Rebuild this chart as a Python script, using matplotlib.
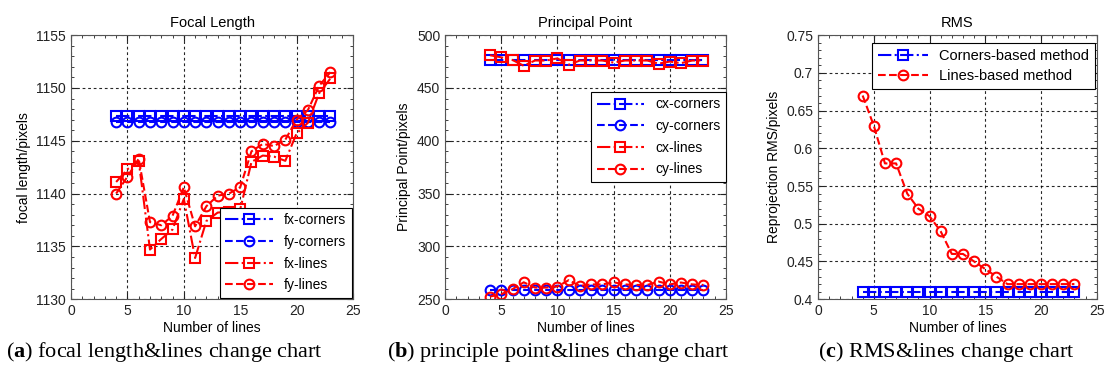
"""Calibration parameters vs number of lines (three panels)."""
import numpy as np
import matplotlib
matplotlib.use('Agg')
import matplotlib.pyplot as plt
from matplotlib.ticker import MultipleLocator

plt.rcParams['font.family'] = ['Liberation Sans', 'DejaVu Sans']
plt.rcParams['mathtext.fontset'] = 'custom'
plt.rcParams['mathtext.rm'] = 'Liberation Serif'
plt.rcParams['mathtext.bf'] = 'Liberation Serif:bold'

# data
n_lines = list(range(4, 24))

fx_corners = [1147.3] * 20
fy_corners = [1146.8] * 20
fx_lines = [1141.1, 1142.3, 1143.1, 1134.7, 1135.7, 1136.6, 1139.5, 1133.9, 1137.4, 1138.2,
            1138.3, 1138.5, 1143.0, 1143.6, 1143.5, 1143.1, 1145.7, 1146.7, 1149.5, 1150.9]
fy_lines = [1140.0, 1141.6, 1143.3, 1137.3, 1137.0, 1137.9, 1140.6, 1136.9, 1138.8, 1139.8,
            1140.0, 1140.6, 1144.0, 1144.7, 1144.5, 1145.1, 1147.0, 1147.9, 1150.2, 1151.5]

cx_corners = [476.5] * 20
cy_corners = [258.5] * 20
cx_lines = [481, 479, 476.5, 471, 476, 476, 478, 472, 476, 476,
            476, 474, 476, 476, 476, 473, 475, 473.5, 476, 476]
cy_lines = [252.5, 254.7, 259.5, 266, 261, 261, 262, 268, 262.6, 264,
            264, 266, 264, 263.5, 263.5, 266.7, 264, 265.8, 264, 263.5]

rms_corners = [0.41] * 20
rms_lines = [0.67, 0.63, 0.58, 0.58, 0.54, 0.52, 0.51, 0.49, 0.46, 0.46,
             0.45, 0.44, 0.43, 0.42, 0.42, 0.42, 0.42, 0.42, 0.42, 0.42]

BLUE = '#0000ff'
RED = '#ff0000'
mk = dict(ms=7, mew=1.5, mfc='none', lw=1.5)

fig = plt.figure(figsize=(11.1, 3.74), dpi=100)
axes = [fig.add_axes([0.064, 0.2, 0.254, 0.706]),
        fig.add_axes([0.401, 0.2, 0.253, 0.706]),
        fig.add_axes([0.737, 0.2, 0.251, 0.706])]


def style(ax, ylim, ymaj, ymin, ylabel, title):
    ax.set_xlim(0, 25)
    ax.set_ylim(*ylim)
    ax.xaxis.set_major_locator(MultipleLocator(5))
    ax.xaxis.set_minor_locator(MultipleLocator(1))
    ax.yaxis.set_major_locator(MultipleLocator(ymaj))
    ax.yaxis.set_minor_locator(MultipleLocator(ymin))
    ax.tick_params(which='both', direction='in', top=True, right=True,
                   labelsize=10, colors='#222222')
    ax.tick_params(which='major', length=4)
    ax.tick_params(which='minor', length=2)
    ax.grid(which='major', color='k', ls=(0, (2.5, 2.5)), lw=0.8, alpha=0.85)
    for s in ax.spines.values():
        s.set_color('#555555')
    ax.set_xlabel('Number of lines', fontsize=10, labelpad=2)
    ax.set_ylabel(ylabel, fontsize=10)
    ax.set_title(title, fontsize=10.5, pad=6)


# (a) focal length
ax = axes[0]
ax.plot(n_lines, fx_corners, '-.s', color=BLUE, label='fx-corners', **mk)
ax.plot(n_lines, fy_corners, '--o', color=BLUE, label='fy-corners', **mk)
ax.plot(n_lines, fx_lines, '-.s', color=RED, label='fx-lines', **mk)
ax.plot(n_lines, fy_lines, '--o', color=RED, label='fy-lines', **mk)
style(ax, (1130, 1155), 5, 1, 'focal length/pixels', 'Focal Length')
leg = ax.legend(loc='lower right', fontsize=10, handlelength=3.4, fancybox=False,
                edgecolor='k', framealpha=1, borderaxespad=0.1, labelspacing=0.55)
leg.get_frame().set_linewidth(0.8)
leg.set_zorder(10)

# (b) principal point
ax = axes[1]
ax.plot(n_lines, cx_corners, '-.s', color=BLUE, label='cx-corners', **mk)
ax.plot(n_lines, cy_corners, '--o', color=BLUE, label='cy-corners', **mk)
ax.plot(n_lines, cx_lines, '-.s', color=RED, label='cx-lines', **mk)
ax.plot(n_lines, cy_lines, '--o', color=RED, label='cy-lines', **mk)
style(ax, (250, 500), 50, 10, 'Principal Point/pixels', 'Principal Point')
leg = ax.legend(loc='upper right', bbox_to_anchor=(1.0, 0.785), fontsize=10,
                handlelength=3.4, fancybox=False, edgecolor='k', framealpha=1,
                borderaxespad=0, labelspacing=0.55)
leg.get_frame().set_linewidth(0.8)

# (c) RMS
ax = axes[2]
ax.plot(n_lines, rms_corners, '-.s', color=BLUE, label='Corners-based method', **mk)
ax.plot(n_lines, rms_lines, '--o', color=RED, label='Lines-based method', **mk)
style(ax, (0.4, 0.75), 0.05, 0.01, 'Reprojection RMS/pixels', 'RMS')
ax.set_yticks(np.arange(0.4, 0.751, 0.05))
ax.set_yticklabels(['0.4', '0.45', '0.5', '0.55', '0.6', '0.65', '0.7', '0.75'])
leg = ax.legend(loc='upper right', bbox_to_anchor=(0.995, 0.97), fontsize=10.5,
                handlelength=3.4, fancybox=False, edgecolor='k', framealpha=1,
                borderaxespad=0, labelspacing=0.4)
leg.get_frame().set_linewidth(0.8)

# captions
cap = dict(fontsize=16, family='Liberation Serif', ha='center', va='center')
fig.text(0.148, 0.06, r'($\mathbf{a}$) focal length&lines change chart', **cap)
fig.text(0.503, 0.06, r'($\mathbf{b}$) principle point&lines change chart', **cap)
fig.text(0.853, 0.06, r'($\mathbf{c}$) RMS&lines change chart', **cap)

fig.savefig('out.png', dpi=100)
